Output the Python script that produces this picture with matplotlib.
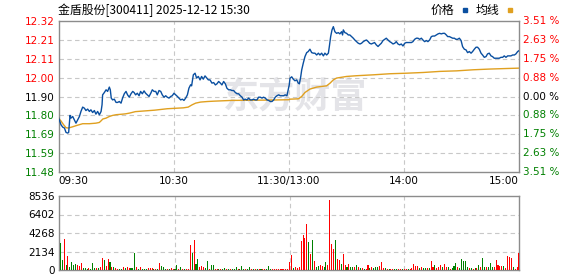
import matplotlib
matplotlib.use("Agg")
import matplotlib.pyplot as plt
import matplotlib.transforms as mtransforms
from matplotlib.patches import Rectangle
import numpy as np

plt.rcParams['font.family'] = ['DejaVu Sans']
CJK = ['Noto Sans CJK SC', 'DejaVu Sans']

title = "金盾股份[300411] 2025-12-12 15:30"
price_labels = ['11.48', '11.59', '11.69', '11.80', '11.90', '12.00', '12.11', '12.21', '12.32']
pct_labels = ['3.51 %', '2.63 %', '1.75 %', '0.88 %', '0.00 %', '0.88 %', '1.75 %', '2.63 %', '3.51 %']
label_colors = ['#008000'] * 4 + ['#000000'] + ['#ff0000'] * 4
time_labels = ['09:30', '10:30', '11:30/13:00', '14:00', '15:00']
vol_labels = ['0', '2134', '4268', '6402', '8536']

# price line, minute index vs price
price_min = [0, 1.2, 2.1, 3.0, 3.8, 4.7, 5.2, 5.9, 6.4, 7.3, 8.1, 9.0, 9.9, 10.8, 11.6, 12.5,
             13.4, 14.2, 15.1, 16.0, 16.8, 17.7, 18.6, 19.4, 20.3, 21.2, 22.1, 22.6, 22.9, 23.8,
             24.7, 25.5, 26.4, 26.9, 27.4, 28.1, 29.0, 29.9, 30.7, 31.6, 32.5, 33.3, 34.2, 35.1,
             35.9, 36.8, 37.7, 38.6, 39.3, 40.1, 41.0, 41.9, 42.7, 43.6, 44.5, 45.3, 46.2, 47.1,
             48.0, 48.8, 49.7, 50.6, 51.4, 52.3, 53.2, 54.0, 54.9, 55.8, 56.6, 57.5, 58.4, 59.2,
             60.1, 61.0, 61.9, 62.7, 63.6, 64.5, 65.3, 66.2, 67.1, 67.9, 68.8, 69.3, 70.2, 71.1,
             71.9, 72.8, 73.7, 74.5, 75.4, 76.3, 77.2, 78.0, 78.9, 79.9, 80.8, 81.7, 82.5, 83.4,
             84.3, 85.1, 86.0, 86.9, 87.7, 88.6, 89.5, 90.3, 91.2, 92.1, 93.0, 93.8, 94.7, 95.6,
             96.4, 97.3, 98.2, 99.0, 99.9, 100.8, 101.6, 102.5, 103.4, 104.2, 105.1, 106.0, 106.8,
             107.7, 108.6, 109.5, 110.3, 111.2, 112.1, 112.9, 113.8, 114.7, 115.5, 116.4, 117.3,
             118.1, 119.0, 119.5, 120.2, 120.6, 121.5, 122.3, 123.2, 124.1, 124.9, 125.5, 126.2,
             126.7, 127.5, 128.4, 129.3, 130.1, 131.0, 131.9, 132.8, 133.6, 134.5, 135.4, 136.2,
             137.1, 138.0, 138.8, 139.7, 140.6, 141.1, 141.8, 142.5, 143.2, 144.0, 144.9, 145.8,
             146.6, 147.5, 148.0, 148.4, 149.2, 150.1, 151.0, 151.8, 152.7, 153.6, 154.4, 155.3,
             156.2, 157.1, 157.9, 158.8, 159.7, 160.5, 161.4, 162.1, 163.0, 163.9, 164.7, 165.6,
             166.5, 167.3, 168.2, 169.1, 170.0, 170.8, 171.7, 172.6, 173.4, 174.3, 175.2, 176.0,
             176.9, 177.8, 178.6, 179.5, 180.4, 181.2, 182.1, 183.0, 183.9, 184.7, 185.6, 186.5,
             187.3, 188.2, 189.1, 189.9, 190.8, 191.7, 192.5, 193.4, 194.3, 195.1, 196.0, 196.9,
             197.8, 198.6, 199.5, 200.4, 201.2, 202.1, 202.8, 203.7, 204.5, 205.4, 206.3, 207.1,
             208.0, 208.9, 209.8, 210.6, 211.5, 212.4, 213.2, 214.1, 215.0, 215.8, 216.7, 217.6,
             218.4, 219.3, 220.2, 221.0, 221.9, 222.8, 223.6, 224.5, 225.4, 226.2, 227.1, 228.0,
             228.9, 229.7, 230.6, 231.5, 232.3, 233.2, 234.1, 234.9, 235.8, 236.7, 237.6, 238.4,
             239.3, 240.0]
price = [11.781, 11.744, 11.731, 11.726, 11.702, 11.698, 11.702, 11.796, 11.781, 11.790, 11.772,
         11.753, 11.772, 11.790, 11.818, 11.842, 11.836, 11.823, 11.831, 11.818, 11.827, 11.812,
         11.823, 11.803, 11.818, 11.799, 11.818, 11.855, 11.910, 11.923, 11.938, 11.929, 11.953,
         11.938, 11.892, 11.882, 11.886, 11.868, 11.868, 11.873, 11.864, 11.892, 11.916, 11.929,
         11.910, 11.897, 11.916, 11.929, 11.923, 11.910, 11.919, 11.905, 11.929, 11.916, 11.932,
         11.919, 11.910, 11.901, 11.919, 11.938, 11.929, 11.929, 11.910, 11.934, 11.929, 11.910,
         11.897, 11.905, 11.897, 11.892, 11.901, 11.905, 11.919, 11.910, 11.901, 11.892, 11.882,
         11.886, 11.879, 11.892, 11.910, 11.947, 11.966, 11.960, 12.021, 12.030, 12.003, 12.012,
         11.993, 12.012, 11.997, 12.015, 12.003, 11.993, 11.993, 11.975, 11.978, 11.965, 11.971,
         11.984, 11.975, 11.965, 11.984, 11.971, 11.947, 11.938, 11.938, 11.934, 11.934, 11.923,
         11.916, 11.916, 11.905, 11.897, 11.882, 11.886, 11.882, 11.892, 11.882, 11.882, 11.886,
         11.882, 11.882, 11.897, 11.897, 11.892, 11.897, 11.892, 11.882, 11.879, 11.873, 11.873,
         11.882, 11.897, 11.905, 11.910, 11.905, 11.905, 11.905, 11.910, 11.905, 11.929, 11.965,
         12.002, 12.010, 11.997, 11.988, 11.993, 11.975, 11.971, 12.011, 12.048, 12.085, 12.122,
         12.144, 12.150, 12.163, 12.144, 12.141, 12.141, 12.131, 12.141, 12.131, 12.141, 12.126,
         12.141, 12.131, 12.141, 12.177, 12.233, 12.270, 12.288, 12.260, 12.251, 12.255, 12.248,
         12.260, 12.242, 12.270, 12.255, 12.251, 12.242, 12.242, 12.233, 12.224, 12.214, 12.205,
         12.196, 12.192, 12.196, 12.205, 12.211, 12.214, 12.205, 12.196, 12.192, 12.196, 12.200,
         12.187, 12.178, 12.187, 12.196, 12.211, 12.218, 12.224, 12.214, 12.205, 12.200, 12.192,
         12.196, 12.205, 12.192, 12.187, 12.192, 12.181, 12.196, 12.200, 12.200, 12.200, 12.200,
         12.205, 12.218, 12.224, 12.224, 12.218, 12.224, 12.214, 12.205, 12.211, 12.205, 12.214,
         12.233, 12.236, 12.236, 12.242, 12.248, 12.251, 12.248, 12.251, 12.251, 12.242, 12.233,
         12.233, 12.229, 12.224, 12.224, 12.218, 12.218, 12.224, 12.211, 12.177, 12.163, 12.159,
         12.144, 12.150, 12.141, 12.150, 12.163, 12.174, 12.174, 12.163, 12.141, 12.131, 12.118,
         12.122, 12.137, 12.141, 12.126, 12.122, 12.113, 12.113, 12.113, 12.113, 12.118, 12.118,
         12.126, 12.118, 12.126, 12.126, 12.126, 12.131, 12.131, 12.137, 12.150, 12.155]

# average price line
avg_min = [0, 1.2, 2.5, 3.8, 5, 7.3, 9, 12.5, 16, 19.4, 21.2, 22.1, 23, 24.7, 26.4, 28.1, 30,
           33.3, 35, 37, 40, 50, 56.6, 65, 67.5, 69.6, 71.4, 74, 77.5, 81, 90, 100, 110, 120,
           120.6, 125, 126.7, 128.4, 131, 134.5, 139.7, 141.5, 143.2, 144.9, 150.1, 155.3, 164,
           172.7, 181.4, 190.1, 198.8, 207.5, 216.2, 224.9, 233.6, 240]
avg_price = [11.78, 11.765, 11.745, 11.728, 11.726, 11.733, 11.739, 11.75, 11.75, 11.753, 11.757,
             11.766, 11.776, 11.781, 11.79, 11.796, 11.80, 11.803, 11.805, 11.809, 11.817, 11.825,
             11.833, 11.838, 11.842, 11.855, 11.864, 11.87, 11.873, 11.875, 11.879, 11.88, 11.881,
             11.883, 11.886, 11.888, 11.901, 11.923, 11.942, 11.953, 11.96, 11.975, 11.993, 12.003,
             12.012, 12.016, 12.021, 12.027, 12.030, 12.034, 12.040, 12.043, 12.049, 12.053,
             12.056, 12.058]

# volume per minute, 09:30 .. 15:00
volume = [3160, 1185, 3555, 590, 1660, 395, 910, 590, 710, 590,
          474, 790, 200, 200, 120, 200, 120, 790, 200, 200,
          200, 320, 1380, 1185, 513, 1264, 870, 320, 395, 200,
          120, 80, 80, 395, 280, 395, 280, 200, 200, 1975,
          395, 120, 320, 120, 80, 120, 200, 200, 200, 120,
          120, 80, 790, 474, 320, 120, 80, 160, 240, 160,
          80, 590, 80, 395, 120, 80, 80, 120, 2844, 1975,
          3476, 710, 1264, 395, 474, 320, 200, 1066, 160, 590,
          590, 80, 80, 120, 80, 120, 200, 80, 80, 120,
          80, 120, 320, 120, 120, 474, 160, 80, 120, 320,
          80, 80, 120, 80, 80, 120, 80, 80, 120, 474,
          160, 80, 80, 120, 80, 80, 120, 80, 80, 120,
          870, 1778, 200, 320, 280, 320, 3358, 4030, 3634, 5333,
          3240, 1896, 3437, 988, 395, 474, 590, 474, 395, 910,
          590, 8100, 2963, 2450, 3437, 1300, 1185, 710, 1896, 590,
          395, 670, 320, 395, 320, 590, 320, 200, 200, 120,
          120, 590, 200, 395, 200, 320, 395, 474, 870, 200,
          200, 120, 80, 120, 120, 80, 120, 80, 120, 80,
          80, 80, 80, 120, 200, 710, 474, 474, 200, 320,
          200, 200, 200, 200, 1066, 320, 590, 200, 395, 590,
          320, 710, 320, 320, 120, 200, 474, 790, 320, 200,
          1300, 988, 988, 320, 200, 280, 120, 200, 280, 590,
          320, 1380, 395, 395, 320, 790, 395, 395, 1185, 590,
          474, 474, 474, 200, 1660, 1500, 1380, 395, 80, 320, 1975]
# r = up (red), g = down (green), one row per ten minutes
vol_dir = ("ggrgrggggr"
           "rrgggrgggr"
           "grrgrrgrgr"
           "rggrgrrggg"
           "rgrgggrrrg"
           "rgrgggrgrr"
           "ggrgrgrrrg"
           "rggrrrggrg"
           "grrgrggrgr"
           "gggrgggrgg"
           "rgrgrgrrgg"
           "grrrrrrrrr"
           "rrgrrrrrrr"
           "grgrggrrgg"
           "rrrrgrrgrr"
           "grggrgrgrg"
           "rrgrgggrrr"
           "grgrrggrrg"
           "rrgrrrrrgr"
           "ggrgrrgrrr"
           "grrgrgggrg"
           "ggggrgrgrg"
           "rggrgggrrr"
           "rrgrrrrgrrr")

fig = plt.figure(figsize=(5.78, 2.76), dpi=100)
W, H = 578.0, 276.0
ax = fig.add_axes([58.7 / W, 1 - 172 / H, 460.3 / W, 150.7 / H])
axv = fig.add_axes([58.7 / W, 1 - 270 / H, 460.3 / W, 74 / H])

lo, hi = 11.4823, 12.3177
ticks = np.linspace(lo, hi, 9)
grid_kw = dict(color='#c8c8c8', lw=0.8, ls=(0, (4, 3)), zorder=1)

for a in (ax, axv):
    for s in a.spines.values():
        s.set_color('#8c8c8c')
        s.set_linewidth(1.0)
    a.tick_params(length=0, labelsize=7.5, pad=3)
    for t in (60, 120, 180):
        a.axvline(t, **grid_kw)

# price panel
ax.text(0.513, 0.50, '东方财富', transform=ax.transAxes, fontsize=26, color='#e4e4e8',
        fontweight='bold', ha='center', va='center', zorder=0, family=CJK)
for y in ticks[1:-1]:
    ax.axhline(y, **grid_kw)
ax.plot(avg_min, avg_price, color='#e0a020', lw=1.0, zorder=3)
ax.plot(price_min, price, color='#0a4fa0', lw=1.0, zorder=4)
ax.set_xlim(0, 240)
ax.set_ylim(lo, hi)
ax.set_yticks(ticks, price_labels)
for lab, c in zip(ax.get_yticklabels(), label_colors):
    lab.set_color(c)
ax.set_xticks([0, 60, 120, 180, 240], time_labels)
xl = ax.get_xticklabels()
xl[0].set_ha('left')
xl[-1].set_ha('right')
trans = mtransforms.blended_transform_factory(ax.transAxes, ax.transData)
for y, lab, c in zip(ticks, pct_labels, label_colors):
    ax.text(1.008, y, lab, transform=trans, ha='left', va='center', fontsize=7.5, color=c)

# volume panel
xs = np.arange(len(volume))
cols = ['#ff0000' if d == 'r' else '#008000' for d in vol_dir]
for y in (2134, 4268, 6402):
    axv.axhline(y, **grid_kw)
axv.bar(xs, volume, width=0.55, color=cols, linewidth=0, zorder=3)
axv.set_xlim(-0.84, 240)
axv.set_ylim(0, 8536)
axv.set_yticks([0, 2134, 4268, 6402, 8536], vol_labels)
axv.set_xticks([])

# header and legend
fig.text(58 / W, 1 - 10 / H, title, fontsize=8.6, family=CJK, ha='left', va='center')
fig.text(431 / W, 1 - 10 / H, '价格', fontsize=8.6, family=CJK, ha='left', va='center')
fig.text(476 / W, 1 - 10 / H, '均线', fontsize=8.6, family=CJK, ha='left', va='center')
fig.patches.append(Rectangle((462.5 / W, 1 - 11.5 / H), 4 / W, 3 / H, transform=fig.transFigure,
                             color='#0a4fa0', figure=fig))
fig.patches.append(Rectangle((507.5 / W, 1 - 11.5 / H), 4 / W, 3 / H, transform=fig.transFigure,
                             color='#e0a020', figure=fig))

fig.savefig('out.png', dpi=100)
